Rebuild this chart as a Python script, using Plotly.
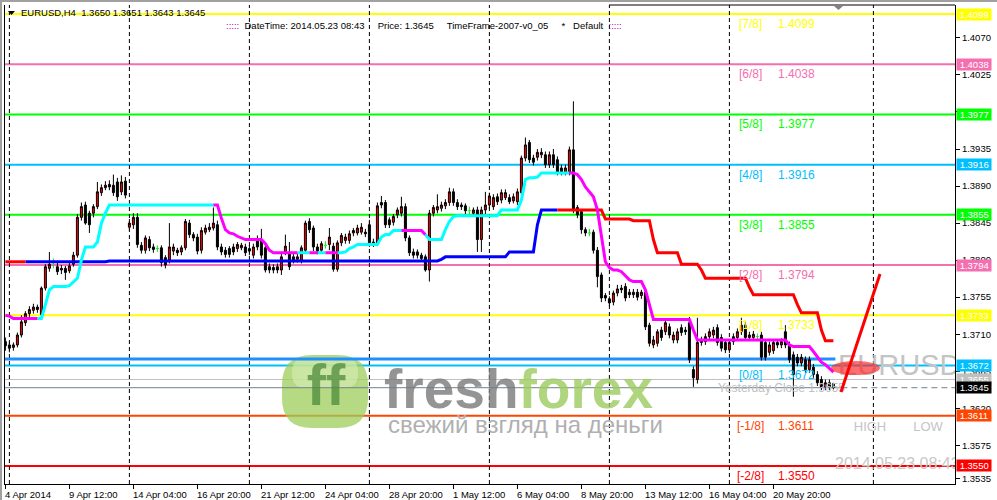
import numpy as np
import pandas as pd
import plotly.graph_objects as go

# ---------------- data (EURUSD, H4) ----------------
opens = [
 1.3701,1.3697,1.3694,1.3697,1.3709,1.3724,1.3735,1.3739,1.3743,1.3734,
 1.3766,1.3790,1.3797,1.3792,1.3788,1.3790,1.3787,1.3795,1.3806,1.3852,
 1.3867,1.3857,1.3857,1.3865,1.3882,1.3888,1.3892,1.3891,1.3895,1.3883,
 1.3896,1.3840,1.3843,1.3852,1.3818,1.3812,1.3825,1.3816,1.3814,1.3815,
 1.3803,1.3800,1.3811,1.3812,1.3810,1.3815,1.3845,1.3831,1.3828,1.3812,
 1.3834,1.3837,1.3839,1.3843,1.3816,1.3812,1.3814,1.3816,1.3814,1.3815,
 1.3816,1.3814,1.3806,1.3826,1.3825,1.3815,1.3792,1.3791,1.3792,1.3788,
 1.3810,1.3809,1.3804,1.3801,1.3800,1.3812,1.3847,1.3839,1.3816,1.3812,
 1.3818,1.3819,1.3817,1.3789,1.3821,1.3824,1.3824,1.3833,1.3833,1.3834,
 1.3834,1.3843,1.3822,1.3821,1.3870,1.3870,1.3849,1.3846,1.3855,1.3857,
 1.3865,1.3827,1.3810,1.3810,1.3806,1.3804,1.3788,1.3857,1.3861,1.3863,
 1.3866,1.3870,1.3883,1.3870,1.3867,1.3866,1.3860,1.3857,1.3861,1.3825,
 1.3861,1.3867,1.3865,1.3877,1.3873,1.3876,1.3876,1.3872,1.3871,1.3882,
 1.3924,1.3943,1.3924,1.3925,1.3928,1.3928,1.3916,1.3928,1.3922,1.3912,
 1.3907,1.3907,1.3934,1.3864,1.3859,1.3837,1.3833,1.3834,1.3812,1.3782,
 1.3757,1.3753,1.3749,1.3760,1.3766,1.3768,1.3761,1.3758,1.3761,1.3757,
 1.3761,1.3721,1.3697,1.3699,1.3715,1.3713,1.3719,1.3703,1.3703,1.3718,
 1.3715,1.3724,1.3667,1.3655,1.3703,1.3707,1.3707,1.3709,1.3718,1.3706,
 1.3700,1.3691,1.3707,1.3706,1.3713,1.3721,1.3706,1.3706,1.3707,1.3709,
 1.3700,1.3688,1.3690,1.3700,1.3697,1.3713,1.3697,1.3685,1.3682,1.3675,
 1.3679,1.3667,1.3670,1.3661,1.3655,1.3646,1.3651,1.3650]
highs = [
 1.3706,1.3701,1.3700,1.3712,1.3733,1.3738,1.3744,1.3747,1.3746,1.3768,
 1.3795,1.3810,1.3802,1.3797,1.3794,1.3793,1.3797,1.3810,1.3856,1.3870,
 1.3871,1.3860,1.3868,1.3895,1.3892,1.3896,1.3897,1.3904,1.3900,1.3903,
 1.3901,1.3850,1.3857,1.3857,1.3822,1.3830,1.3829,1.3820,1.3818,1.3818,
 1.3806,1.3845,1.3820,1.3815,1.3818,1.3850,1.3849,1.3834,1.3832,1.3840,
 1.3843,1.3845,1.3864,1.3848,1.3820,1.3816,1.3817,1.3820,1.3822,1.3821,
 1.3820,1.3818,1.3820,1.3830,1.3838,1.3819,1.3796,1.3795,1.3796,1.3808,
 1.3831,1.3822,1.3808,1.3808,1.3818,1.3848,1.3851,1.3842,1.3820,1.3823,
 1.3823,1.3839,1.3821,1.3824,1.3833,1.3832,1.3836,1.3839,1.3843,1.3845,
 1.3838,1.3849,1.3826,1.3870,1.3878,1.3873,1.3852,1.3856,1.3864,1.3877,
 1.3869,1.3830,1.3814,1.3813,1.3809,1.3807,1.3861,1.3867,1.3880,1.3871,
 1.3874,1.3888,1.3887,1.3874,1.3870,1.3869,1.3865,1.3864,1.3865,1.3865,
 1.3883,1.3882,1.3880,1.3881,1.3886,1.3886,1.3880,1.3881,1.3887,1.3927,
 1.3949,1.3946,1.3928,1.3935,1.3936,1.3932,1.3932,1.3935,1.3926,1.3916,
 1.3916,1.3938,1.3993,1.3867,1.3862,1.3840,1.3838,1.3837,1.3816,1.3785,
 1.3760,1.3756,1.3763,1.3770,1.3770,1.3772,1.3765,1.3765,1.3765,1.3764,
 1.3764,1.3724,1.3708,1.3716,1.3719,1.3728,1.3723,1.3713,1.3717,1.3722,
 1.3719,1.3731,1.3671,1.3730,1.3707,1.3711,1.3717,1.3719,1.3722,1.3710,
 1.3704,1.3704,1.3711,1.3717,1.3730,1.3725,1.3713,1.3714,1.3711,1.3713,
 1.3704,1.3701,1.3704,1.3704,1.3705,1.3721,1.3701,1.3689,1.3686,1.3686,
 1.3683,1.3683,1.3674,1.3665,1.3659,1.3655,1.3655,1.3651]
lows = [
 1.3690,1.3688,1.3690,1.3694,1.3706,1.3720,1.3731,1.3735,1.3736,1.3731,
 1.3763,1.3786,1.3790,1.3782,1.3783,1.3776,1.3784,1.3792,1.3803,1.3848,
 1.3843,1.3833,1.3852,1.3862,1.3878,1.3885,1.3885,1.3878,1.3872,1.3879,
 1.3875,1.3836,1.3838,1.3815,1.3808,1.3808,1.3811,1.3809,1.3810,1.3792,
 1.3790,1.3796,1.3806,1.3805,1.3806,1.3812,1.3827,1.3823,1.3807,1.3808,
 1.3831,1.3834,1.3836,1.3812,1.3806,1.3803,1.3803,1.3806,1.3810,1.3812,
 1.3805,1.3806,1.3802,1.3812,1.3802,1.3785,1.3784,1.3784,1.3784,1.3782,
 1.3806,1.3788,1.3796,1.3797,1.3796,1.3808,1.3833,1.3811,1.3807,1.3808,
 1.3814,1.3812,1.3786,1.3786,1.3817,1.3820,1.3820,1.3829,1.3830,1.3831,
 1.3828,1.3816,1.3816,1.3817,1.3863,1.3839,1.3839,1.3842,1.3851,1.3853,
 1.3823,1.3805,1.3802,1.3802,1.3798,1.3786,1.3774,1.3853,1.3857,1.3859,
 1.3862,1.3866,1.3866,1.3861,1.3861,1.3856,1.3856,1.3853,1.3810,1.3810,
 1.3856,1.3862,1.3861,1.3867,1.3869,1.3873,1.3868,1.3869,1.3867,1.3878,
 1.3920,1.3918,1.3915,1.3921,1.3924,1.3912,1.3912,1.3912,1.3903,1.3903,
 1.3903,1.3903,1.3857,1.3851,1.3832,1.3829,1.3829,1.3808,1.3767,1.3749,
 1.3750,1.3744,1.3745,1.3756,1.3760,1.3750,1.3754,1.3754,1.3751,1.3753,
 1.3715,1.3695,1.3693,1.3695,1.3702,1.3709,1.3705,1.3699,1.3699,1.3708,
 1.3709,1.3675,1.3646,1.3650,1.3696,1.3697,1.3703,1.3705,1.3696,1.3689,
 1.3687,1.3687,1.3697,1.3702,1.3709,1.3702,1.3702,1.3702,1.3703,1.3678,
 1.3678,1.3684,1.3686,1.3693,1.3693,1.3693,1.3675,1.3634,1.3671,1.3671,
 1.3663,1.3663,1.3657,1.3647,1.3642,1.3642,1.3642,1.3643]
closes = [
 1.3696,1.3693,1.3697,1.3709,1.3725,1.3735,1.3740,1.3743,1.3740,1.3766,
 1.3792,1.3795,1.3797,1.3786,1.3790,1.3785,1.3793,1.3806,1.3852,1.3865,
 1.3845,1.3843,1.3865,1.3883,1.3888,1.3891,1.3889,1.3882,1.3877,1.3895,
 1.3879,1.3845,1.3852,1.3819,1.3812,1.3827,1.3815,1.3813,1.3814,1.3797,
 1.3794,1.3816,1.3816,1.3809,1.3815,1.3847,1.3831,1.3827,1.3811,1.3836,
 1.3839,1.3840,1.3845,1.3816,1.3810,1.3807,1.3807,1.3810,1.3819,1.3818,
 1.3809,1.3811,1.3816,1.3816,1.3806,1.3788,1.3788,1.3788,1.3788,1.3804,
 1.3817,1.3792,1.3800,1.3804,1.3815,1.3845,1.3837,1.3816,1.3811,1.3820,
 1.3818,1.3828,1.3789,1.3821,1.3830,1.3828,1.3832,1.3836,1.3839,1.3840,
 1.3832,1.3821,1.3820,1.3866,1.3867,1.3843,1.3843,1.3853,1.3861,1.3865,
 1.3827,1.3809,1.3806,1.3806,1.3802,1.3788,1.3857,1.3864,1.3865,1.3867,
 1.3870,1.3883,1.3870,1.3865,1.3865,1.3860,1.3860,1.3861,1.3825,1.3861,
 1.3867,1.3878,1.3876,1.3871,1.3882,1.3882,1.3871,1.3877,1.3883,1.3924,
 1.3940,1.3922,1.3919,1.3931,1.3931,1.3916,1.3928,1.3916,1.3907,1.3907,
 1.3912,1.3934,1.3861,1.3855,1.3837,1.3833,1.3833,1.3812,1.3780,1.3754,
 1.3754,1.3748,1.3760,1.3765,1.3764,1.3754,1.3758,1.3761,1.3755,1.3761,
 1.3719,1.3699,1.3703,1.3713,1.3706,1.3724,1.3709,1.3709,1.3713,1.3712,
 1.3713,1.3679,1.3657,1.3700,1.3700,1.3701,1.3713,1.3715,1.3700,1.3693,
 1.3691,1.3700,1.3701,1.3713,1.3721,1.3706,1.3709,1.3710,1.3707,1.3682,
 1.3682,1.3697,1.3700,1.3697,1.3701,1.3697,1.3679,1.3661,1.3675,1.3682,
 1.3667,1.3679,1.3661,1.3651,1.3646,1.3651,1.3646,1.3645]

# fast trend line (aqua up / magenta down)
fast_line = [
 1.3733,1.3732,1.3729,1.3729,1.3729,1.3729,1.3729,1.3729,1.3729,1.3729,
 1.3746,1.3764,1.3768,1.3768,1.3768,1.3768,1.3769,1.3774,1.3778,1.3800,
 1.3816,1.3816,1.3816,1.3822,1.3845,1.3857,1.3867,1.3867,1.3867,1.3867,
 1.3867,1.3867,1.3867,1.3867,1.3867,1.3867,1.3867,1.3867,1.3867,1.3867,
 1.3867,1.3867,1.3867,1.3867,1.3867,1.3867,1.3867,1.3867,1.3867,1.3867,
 1.3867,1.3867,1.3867,1.3867,1.3851,1.3837,1.3833,1.3832,1.3829,1.3827,
 1.3825,1.3825,1.3825,1.3825,1.3825,1.3820,1.3812,1.3809,1.3809,1.3809,
 1.3809,1.3809,1.3809,1.3809,1.3809,1.3809,1.3809,1.3809,1.3809,1.3809,
 1.3809,1.3809,1.3809,1.3809,1.3809,1.3810,1.3814,1.3816,1.3819,1.3819,
 1.3819,1.3819,1.3819,1.3819,1.3828,1.3831,1.3831,1.3836,1.3836,1.3836,
 1.3836,1.3836,1.3836,1.3836,1.3836,1.3831,1.3825,1.3825,1.3825,1.3825,
 1.3837,1.3847,1.3853,1.3854,1.3854,1.3854,1.3854,1.3854,1.3854,1.3854,
 1.3854,1.3854,1.3854,1.3854,1.3861,1.3861,1.3861,1.3861,1.3861,1.3873,
 1.3898,1.3900,1.3900,1.3901,1.3906,1.3906,1.3906,1.3906,1.3906,1.3906,
 1.3906,1.3906,1.3906,1.3904,1.3898,1.3889,1.3883,1.3877,1.3861,1.3831,
 1.3798,1.3791,1.3788,1.3788,1.3786,1.3781,1.3776,1.3774,1.3774,1.3774,
 1.3764,1.3746,1.3728,1.3728,1.3728,1.3728,1.3728,1.3728,1.3728,1.3728,
 1.3728,1.3728,1.3715,1.3703,1.3703,1.3703,1.3703,1.3703,1.3703,1.3703,
 1.3703,1.3703,1.3703,1.3703,1.3703,1.3703,1.3703,1.3703,1.3703,1.3703,
 1.3703,1.3703,1.3703,1.3703,1.3703,1.3703,1.3697,1.3695,1.3695,1.3695,
 1.3695,1.3695,1.3689,1.3682,1.3676,1.3673,1.3669,1.3664]
fast_turns = [(0, "dn"), (9, "up"), (53, "dn"), (74, "up"), (77, "dn"), (79, "up"),
              (81, "dn"), (84, "up"), (100, "dn"), (106, "up"), (142, "dn")]

# slow trend line (blue up / red down)
slow_line = [
 1.3798,1.3798,1.3798,1.3798,1.3798,1.3798,1.3798,1.3798,1.3798,1.3798,
 1.3798,1.3798,1.3798,1.3798,1.3798,1.3798,1.3798,1.3798,1.3798,1.3798,
 1.3798,1.3798,1.3798,1.3798,1.3798,1.3798,1.3799,1.3799,1.3799,1.3799,
 1.3799,1.3799,1.3799,1.3799,1.3799,1.3799,1.3799,1.3799,1.3799,1.3799,
 1.3799,1.3799,1.3799,1.3799,1.3799,1.3799,1.3799,1.3799,1.3799,1.3799,
 1.3799,1.3799,1.3799,1.3799,1.3799,1.3799,1.3799,1.3799,1.3799,1.3799,
 1.3799,1.3799,1.3799,1.3799,1.3799,1.3799,1.3799,1.3799,1.3799,1.3799,
 1.3799,1.3799,1.3799,1.3799,1.3799,1.3799,1.3799,1.3799,1.3799,1.3799,
 1.3799,1.3799,1.3799,1.3799,1.3799,1.3799,1.3799,1.3799,1.3799,1.3799,
 1.3799,1.3799,1.3799,1.3799,1.3799,1.3799,1.3799,1.3799,1.3799,1.3799,
 1.3799,1.3799,1.3799,1.3799,1.3799,1.3799,1.3799,1.3799,1.3799,1.3801,
 1.3804,1.3804,1.3804,1.3804,1.3804,1.3804,1.3804,1.3804,1.3804,1.3804,
 1.3804,1.3804,1.3804,1.3804,1.3804,1.3804,1.3810,1.3810,1.3810,1.3810,
 1.3810,1.3810,1.3810,1.3843,1.3861,1.3861,1.3861,1.3861,1.3861,1.3861,
 1.3861,1.3861,1.3861,1.3861,1.3861,1.3861,1.3861,1.3861,1.3861,1.3861,
 1.3850,1.3850,1.3850,1.3850,1.3850,1.3850,1.3850,1.3848,1.3848,1.3848,
 1.3848,1.3848,1.3825,1.3809,1.3809,1.3809,1.3809,1.3809,1.3809,1.3795,
 1.3795,1.3795,1.3795,1.3795,1.3788,1.3778,1.3778,1.3778,1.3778,1.3778,
 1.3778,1.3778,1.3778,1.3778,1.3778,1.3778,1.3767,1.3758,1.3758,1.3758,
 1.3758,1.3758,1.3758,1.3758,1.3758,1.3758,1.3758,1.3758,1.3746,1.3736,
 1.3736,1.3736,1.3736,1.3736,1.3715,1.3702,1.3702,1.3702]
slow_turns = [(0, "dn"), (6, "up"), (139, "dn")]

# Murrey math levels
murrey_levels = [1.4099, 1.4038, 1.3977, 1.3916, 1.3855, 1.3794, 1.3733, 1.3672, 1.3611, 1.3550]
murrey_names = ["[7/8]", "[6/8]", "[5/8]", "[4/8]", "[3/8]", "[2/8]", "[1/8]", "[0/8]", "[-1/8]", "[-2/8]"]
murrey_colors = ["#FFFF00", "#F46EB0", "#00FF00", "#00BFFF", "#00FF00", "#F46EB0",
                 "#FFFF00", "#00BFFF", "#FF4500", "#FF0000"]
yesterday_high = 1.3680
yesterday_close = 1.3655
bid_price = 1.3645

ytick_vals = [1.4070, 1.4025, 1.3980, 1.3935, 1.3890, 1.3845, 1.3800, 1.3755,
              1.3710, 1.3665, 1.3620, 1.3575, 1.3535]
time_labels = ["4 Apr 2014", "9 Apr 12:00", "14 Apr 04:00", "16 Apr 20:00", "21 Apr 12:00",
               "24 Apr 04:00", "28 Apr 20:00", "1 May 12:00", "6 May 04:00", "8 May 20:00",
               "13 May 12:00", "16 May 04:00", "20 May 20:00"]

# ---------------- geometry helpers ----------------
W, H = 997, 500
ML, MR, MT, MB = 5, 42, 5, 16
PW, PH = W - ML - MR, H - MT - MB
X_RANGE = [-0.1, 237.4]
Y_RANGE = [1.3528, 1.4110]
FONT = "Liberation Sans, Arial, sans-serif"
SMALL = 9.5


def bar_at(px):
    return X_RANGE[0] + (px - ML) / PW * (X_RANGE[1] - X_RANGE[0])


def price_at(py):
    return Y_RANGE[1] - (py - MT) / PH * (Y_RANGE[1] - Y_RANGE[0])


def paper_x(px):
    return (px - ML) / PW


def paper_y(py):
    return (H - MB - py) / PH


n = len(closes)
bars = np.arange(n)
times = pd.date_range("2014-04-04 20:00", periods=400, freq="4h")
times = times[times.dayofweek < 5][:n]
future = pd.date_range(times[-1] + pd.Timedelta(hours=4), periods=40, freq="4h")
all_times = list(times) + list(future)
week_key = [(t - pd.Timedelta(days=(t.dayofweek + 1) % 7)).normalize() for t in all_times]
separators = [i for i in range(1, len(all_times)) if week_key[i] != week_key[i - 1]]
separators = [s for s in separators if s < X_RANGE[1]]
label_bars = list(range(0, n, 16))[:len(time_labels)]


def split_by_state(values, turns):
    state = [None] * n
    for k, (start, s) in enumerate(turns):
        end = turns[k + 1][0] if k + 1 < len(turns) else n
        for i in range(start, end):
            state[i] = s
    up, dn = [None] * n, [None] * n
    for i in range(n):
        tgt = up if state[i] == "up" else dn
        tgt[i] = values[i]
        if i > 0 and state[i] != state[i - 1]:
            tgt[i - 1] = values[i - 1]
    return up, dn


doji = [i for i in range(n) if opens[i] == closes[i]]
c_o = [None if i in doji else opens[i] for i in range(n)]
c_h = [None if i in doji else highs[i] for i in range(n)]
c_l = [None if i in doji else lows[i] for i in range(n)]
c_c = [None if i in doji else closes[i] for i in range(n)]

fig = go.Figure()

# watermark (under everything)
fig.add_trace(go.Scatter(x=[bar_at(326)], y=[price_at(390)], mode="text", text=["<b>ff</b>"],
                         textposition="middle center", opacity=0.75,
                         textfont=dict(size=58, color="#4E8A3C", family=FONT), hoverinfo="skip"))
fig.add_trace(go.Scatter(x=[bar_at(384)], y=[price_at(394)], mode="text",
                         text=["<b><span style='color:#7A7A7A'>fresh</span><span style='color:#9CCB5E'>forex</span></b>"],
                         textposition="middle right", opacity=0.8,
                         textfont=dict(size=55, family=FONT), hoverinfo="skip"))
fig.add_trace(go.Scatter(x=[bar_at(388)], y=[price_at(427)], mode="text",
                         text=["свежий взгляд на деньги"], textposition="middle right",
                         textfont=dict(size=24, color="#B0B0B0", family=FONT), hoverinfo="skip"))
fig.add_trace(go.Scatter(x=[bar_at(718)], y=[price_at(389)], mode="text",
                         text=["Yesterday Close %.4f" % yesterday_close], textposition="middle right",
                         textfont=dict(size=12, color="#C0C0C0", family=FONT), hoverinfo="skip"))

# candles
fig.add_trace(go.Candlestick(
    x=bars, open=c_o, high=c_h, low=c_l, close=c_c, whiskerwidth=0,
    increasing=dict(line=dict(color="black", width=1), fillcolor="#FF0000"),
    decreasing=dict(line=dict(color="black", width=1), fillcolor="black"),
    hoverinfo="skip"))
dx, dy = [], []
for i in doji:
    dx += [i, i, None, i - 0.4, i + 0.4, None]
    dy += [lows[i], highs[i], None, opens[i], opens[i], None]
fig.add_trace(go.Scatter(x=dx, y=dy, mode="lines", line=dict(color="#22DD22", width=1),
                         hoverinfo="skip"))

# trend lines
su, sd = split_by_state(slow_line, slow_turns)
fu, fd = split_by_state(fast_line, fast_turns)
for vals, col in [(su, "#0000FF"), (sd, "#FF0000"), (fu, "#00FFFF"), (fd, "#FF00FF")]:
    fig.add_trace(go.Scatter(x=bars, y=vals, mode="lines", connectgaps=False,
                             line=dict(color=col, width=3), hoverinfo="skip"))

# big symbol and texts at right (clipped by plot area)
fig.add_trace(go.Scatter(x=[bar_at(838)], y=[price_at(368)], mode="text", text=["EURUSD"],
                         textposition="middle right",
                         textfont=dict(size=29, color="#C4C4C4", family=FONT), hoverinfo="skip"))
fig.add_trace(go.Scatter(x=[bar_at(870), bar_at(928)], y=[price_at(428), price_at(428)], mode="text",
                         text=["HIGH", "LOW"], textposition="middle center",
                         textfont=dict(size=13, color="#C4C4C4", family=FONT), hoverinfo="skip"))
fig.add_trace(go.Scatter(x=[bar_at(835)], y=[price_at(465)], mode="text", text=["2014.05.23 08:43"],
                         textposition="middle right",
                         textfont=dict(size=16, color="#C8C8C8", family=FONT), hoverinfo="skip"))

shapes = []
for lvl, col in zip(murrey_levels, murrey_colors):
    shapes.append(dict(type="line", xref="paper", x0=0, x1=1, yref="y", y0=lvl, y1=lvl,
                       line=dict(color=col, width=2), layer="below"))
shapes.append(dict(type="line", xref="x", x0=X_RANGE[0], x1=n - 0.5, yref="y",
                   y0=yesterday_high, y1=yesterday_high, line=dict(color="#1E90FF", width=3), layer="below"))
shapes.append(dict(type="line", xref="paper", x0=0, x1=1, yref="y", y0=yesterday_close, y1=yesterday_close,
                   line=dict(color="#C0C0C0", width=1), layer="below"))
shapes.append(dict(type="line", xref="x", x0=X_RANGE[0], x1=n + 1, yref="y", y0=bid_price, y1=bid_price,
                   line=dict(color="#708090", width=1), layer="below"))
shapes.append(dict(type="line", xref="x", x0=n + 1, x1=X_RANGE[1], yref="y", y0=bid_price, y1=bid_price,
                   line=dict(color="#708090", width=1, dash="6px,4px"), layer="below"))


def rounded(x0, y0, x1, y1, r):
    pts = [("M", x0 + r, y0), ("L", x1 - r, y0), ("Q", x1, y0, x1, y0 + r), ("L", x1, y1 - r),
           ("Q", x1, y1, x1 - r, y1), ("L", x0 + r, y1), ("Q", x0, y1, x0, y1 - r),
           ("L", x0, y0 + r), ("Q", x0, y0, x0 + r, y0)]
    out = []
    for p in pts:
        cmd, vals = p[0], p[1:]
        coords = []
        for k in range(0, len(vals), 2):
            coords.append("%.5f,%.5f" % (paper_x(vals[k]), paper_y(vals[k + 1])))
        out.append(cmd + " " + " ".join(coords))
    return " ".join(out) + " Z"


shapes.append(dict(type="path", xref="paper", yref="paper", path=rounded(282, 355, 368, 428, 30),
                   fillcolor="#9CCD5A", opacity=0.75, line=dict(width=0), layer="below"))
shapes.append(dict(type="path", xref="paper", yref="paper", path=rounded(292, 358, 358, 388, 14),
                   fillcolor="#D8EEB8", opacity=0.6, line=dict(width=0), layer="below"))
for s in separators:
    shapes.append(dict(type="line", xref="x", x0=s, x1=s, yref="paper", y0=0, y1=1,
                       line=dict(color="black", width=1, dash="4px,3px"), layer="below"))
# drawn objects
shapes.append(dict(type="circle", xref="x", yref="y", x0=bar_at(831), x1=bar_at(880),
                   y0=price_at(375), y1=price_at(361), fillcolor="#FF2020", opacity=0.65,
                   line=dict(width=0)))
shapes.append(dict(type="line", xref="x", yref="y", x0=bar_at(841), y0=price_at(392),
                   x1=bar_at(880), y1=price_at(274), line=dict(color="#FF0000", width=3)))
# triangles / frame
shapes.append(dict(type="path", xref="paper", yref="paper",
                   path="M %.5f,%.5f L %.5f,%.5f L %.5f,%.5f Z" % (paper_x(8), paper_y(11), paper_x(15), paper_y(11),
                                                                     paper_x(11.5), paper_y(15)),
                   fillcolor="black", line=dict(width=0)))
shapes.append(dict(type="path", xref="paper", yref="paper",
                   path="M %.5f,%.5f L %.5f,%.5f L %.5f,%.5f Z" % (paper_x(834), paper_y(6), paper_x(843), paper_y(6),
                                                                     paper_x(838.5), paper_y(10)),
                   fillcolor="#808080", line=dict(width=0)))
shapes.append(dict(type="line", xref="paper", yref="paper", x0=paper_x(609), x1=1, y0=1, y1=1,
                   line=dict(color="black", width=1)))
shapes.append(dict(type="line", xref="paper", yref="paper", x0=paper_x(0), x1=paper_x(W), y0=paper_y(1),
                   y1=paper_y(1), line=dict(color="#A0A0A0", width=2)))
shapes.append(dict(type="line", xref="paper", yref="paper", x0=paper_x(1), x1=paper_x(1), y0=paper_y(0),
                   y1=paper_y(H), line=dict(color="#A0A0A0", width=2)))

ann = []
ann.append(dict(xref="paper", yref="paper", x=paper_x(19), y=paper_y(13), xanchor="left", yanchor="middle",
                text="EURUSD,H4  %.4f %.4f %.4f %.4f" % (opens[-1], highs[-1], lows[-1], closes[-1]),
                font=dict(size=SMALL, color="black", family=FONT), showarrow=False))
ann.append(dict(xref="paper", yref="paper", x=paper_x(224), y=paper_y(26), xanchor="left", yanchor="middle",
                text="<span style='color:#B000B0'>:::::</span>  DateTime: 2014.05.23 08:43     Price: %.4f     "
                     "TimeFrame-2007-v0_05     *   Default  <span style='color:#B000B0'>:::::</span>" % closes[-1],
                font=dict(size=SMALL, color="black", family=FONT), showarrow=False))
for lvl, name, col in zip(murrey_levels, murrey_names, murrey_colors):
    ann.append(dict(xref="paper", yref="y", x=paper_x(750), y=lvl, yshift=-10, xanchor="center",
                    yanchor="middle", text=name, font=dict(size=12, color=col, family=FONT), showarrow=False))
    ann.append(dict(xref="paper", yref="y", x=paper_x(776), y=lvl, yshift=-10, xanchor="left",
                    yanchor="middle", text="%.4f" % lvl, font=dict(size=12, color=col, family=FONT),
                    showarrow=False))
tags = list(zip(murrey_levels, murrey_colors)) + [(yesterday_close, "#C0C0C0"), (bid_price, "black")]
for lvl, col in tags:
    ann.append(dict(xref="paper", yref="y", x=1, xshift=1, y=lvl, xanchor="left", yanchor="middle",
                    text="&nbsp;%.4f&nbsp;" % lvl, bgcolor=col, borderpad=0,
                    font=dict(size=SMALL, color="white", family=FONT), showarrow=False))
for b, lab in zip(label_bars, time_labels):
    ann.append(dict(xref="x", yref="paper", x=b, y=0, yshift=-3, xshift=-2, xanchor="left", yanchor="top",
                    text=lab, font=dict(size=SMALL, color="black", family=FONT), showarrow=False))

fig.update_layout(
    width=W, height=H, margin=dict(l=ML, r=MR, t=MT, b=MB),
    paper_bgcolor="white", plot_bgcolor="white", showlegend=False, hovermode=False,
    shapes=shapes, annotations=ann,
    xaxis=dict(range=X_RANGE, showgrid=False, zeroline=False, showline=True, linecolor="black",
               linewidth=1, mirror=False, ticks="outside", ticklen=4, tickcolor="black",
               tickvals=label_bars, showticklabels=False, rangeslider=dict(visible=False)),
    yaxis=dict(range=Y_RANGE, side="right", showgrid=False, zeroline=False, showline=True,
               linecolor="black", linewidth=1, mirror=True, ticks="outside", ticklen=4,
               tickcolor="black", tickvals=ytick_vals, ticktext=["%.4f" % v for v in ytick_vals],
               tickfont=dict(size=SMALL, color="black", family=FONT)),
)
fig.write_html("out.html", config={"displayModeBar": False},
               post_script="document.body.style.margin='0px';document.body.style.overflow='hidden';")
